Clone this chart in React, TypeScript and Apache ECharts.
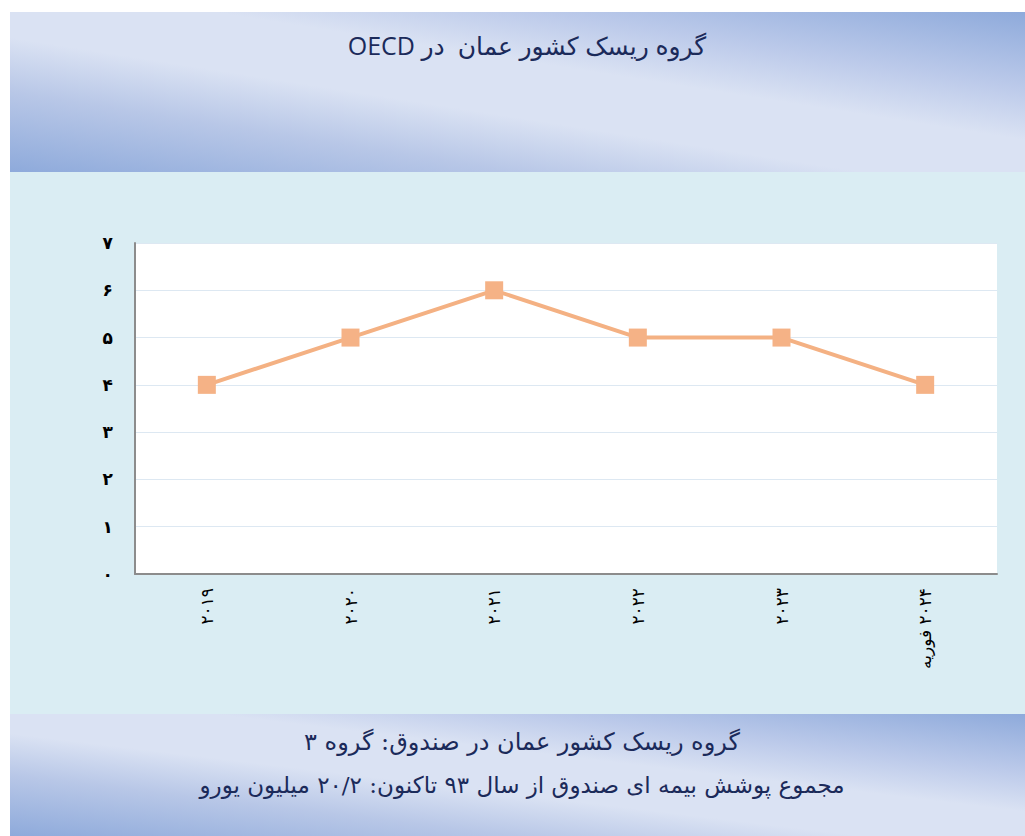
import React, { useEffect, useRef } from "react";
import * as echarts from "echarts";

const categories = ["۲۰۱۹", "۲۰۲۰", "۲۰۲۱", "۲۰۲۲", "۲۰۲۳", "\u202B۲۰۲۴ فوریه\u202C"];
const values = [4, 5, 6, 5, 5, 4];
const yTickLabels = ["۰", "۱", "۲", "۳", "۴", "۵", "۶", "۷"];
const titleText = "\u202Bگروه ریسک کشور عمان  در OECD\u202C";
const footerLine1 = "گروه ریسک کشور عمان در صندوق: گروه ۳";
const footerLine2 = "مجموع پوشش بیمه ای صندوق از سال ۹۳ تاکنون: ۲۰/۲ میلیون یورو";

const FONT = "'DejaVu Serif', 'DejaVu Sans', serif";
const TITLE_FONT = "'Open Sans', 'DejaVu Sans', sans-serif";
const NAVY = "#1b2a5a";

function bandGradient() {
  return new echarts.graphic.LinearGradient(0, 1, 1, 0, [
    { offset: 0, color: "#8eaadb" },
    { offset: 0.25, color: "#b8c7e7" },
    { offset: 0.42, color: "#dae2f3" },
    { offset: 0.6, color: "#dae2f3" },
    { offset: 0.76, color: "#bccaea" },
    { offset: 1, color: "#8eaadb" },
  ]);
}

export default function App() {
  const ref = useRef<HTMLDivElement>(null);
  useEffect(() => {
    if (!ref.current) return;
    const chart = echarts.init(ref.current, null, { renderer: "svg" });
    chart.setOption({
      animation: false,
      backgroundColor: "#ffffff",
      graphic: [
        { type: "rect", z: -100, shape: { x: 10, y: 12, width: 1015, height: 160 }, style: { fill: bandGradient() } },
        { type: "rect", z: -100, shape: { x: 10, y: 172, width: 1015, height: 542 }, style: { fill: "#daedf3" } },
        { type: "rect", z: -100, shape: { x: 10, y: 714, width: 1015, height: 122 }, style: { fill: bandGradient() } },
        {
          type: "text", z: 100, x: 527, y: 45,
          style: { text: titleText, fill: NAVY, font: `25px ${TITLE_FONT}`, textAlign: "center", textVerticalAlign: "middle" },
        },
        {
          type: "text", z: 100, x: 522, y: 742,
          style: { text: footerLine1, fill: NAVY, font: `24px ${FONT}`, textAlign: "center", textVerticalAlign: "middle" },
        },
        {
          type: "text", z: 100, x: 522, y: 785,
          style: { text: footerLine2, fill: NAVY, font: `23px ${FONT}`, textAlign: "center", textVerticalAlign: "middle" },
        },
      ],
      grid: {
        left: 135, right: 28, top: 243, bottom: 262,
        show: true, backgroundColor: "#ffffff", borderWidth: 0,
      },
      xAxis: {
        type: "category",
        data: categories,
        boundaryGap: true,
        axisLine: { lineStyle: { color: "#8c8c8c", width: 2 } },
        axisTick: { show: false },
        axisLabel: { rotate: 90, margin: 14, color: "#000", fontSize: 17, fontFamily: FONT, interval: 0 },
      },
      yAxis: {
        type: "value",
        min: 0, max: 7, interval: 1,
        axisLine: { show: true, lineStyle: { color: "#8c8c8c", width: 2 } },
        axisTick: { show: false },
        splitLine: { lineStyle: { color: "#dde8f2", width: 1 } },
        axisLabel: {
          margin: 22, color: "#000", fontSize: 17, fontWeight: "bold", fontFamily: FONT,
          formatter: (v: number) => yTickLabels[v] ?? "",
        },
      },
      series: [
        {
          type: "line",
          data: values,
          symbol: "rect",
          symbolSize: 18,
          lineStyle: { color: "#f4b183", width: 4 },
          itemStyle: { color: "#f5b286" },
        },
      ],
    });
    return () => chart.dispose();
  }, []);
  return <div ref={ref} style={{ position: "fixed", left: 0, top: 0, width: 1025, height: 836 }} />;
}
